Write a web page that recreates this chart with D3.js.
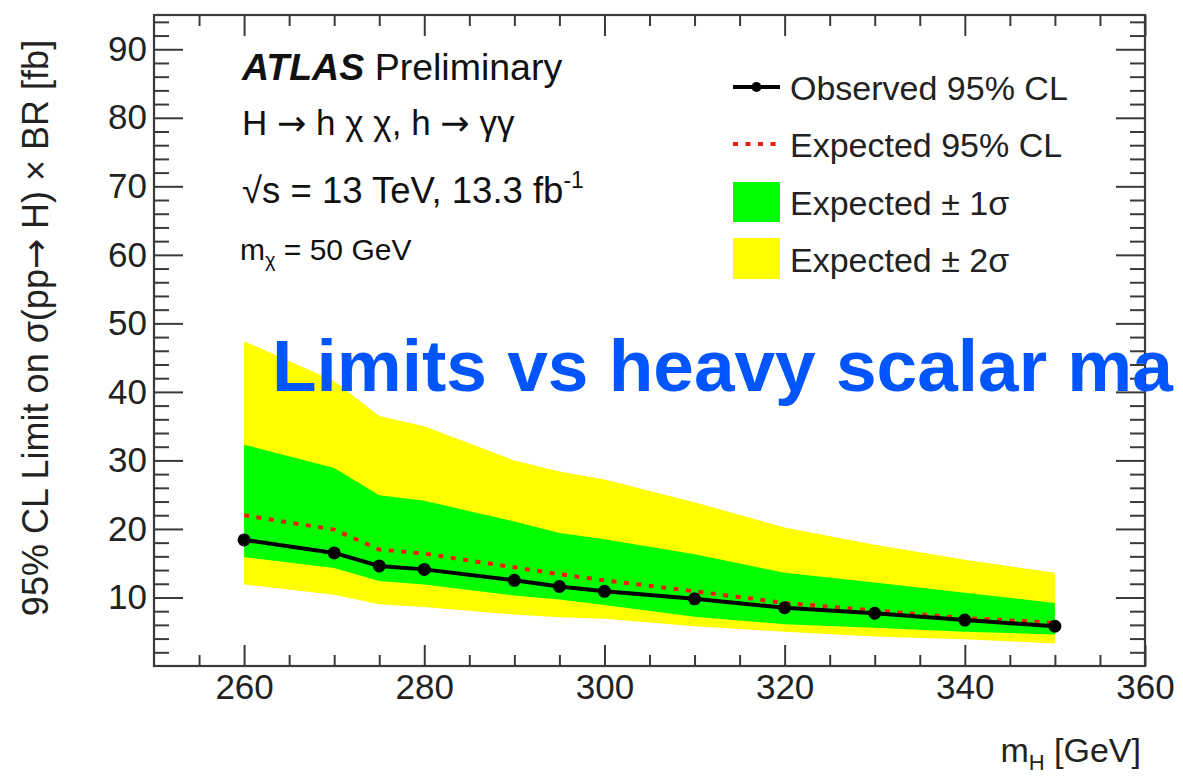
<!DOCTYPE html>
<html>
<head>
<meta charset="utf-8">
<script src="https://cdn.jsdelivr.net/npm/d3@7"></script>
<style>
  html, body { margin: 0; padding: 0; background: #fff; overflow: hidden; }
  svg { display: block; font-family: "Liberation Sans", Arial, Helvetica, sans-serif; }
</style>
</head>
<body>
<svg id="chart" width="1183" height="779"></svg>
<script>
// ---- data ----
const massPoints = [260, 270, 275, 280, 290, 295, 300, 310, 320, 330, 340, 350];
const observed   = [18.4, 16.5, 14.6, 14.1, 12.5, 11.6, 10.9, 9.8, 8.5, 7.7, 6.7, 5.8];
const expected   = [22.0, 19.9, 17.0, 16.4, 14.4, 13.4, 12.5, 10.9, 9.2, 8.1, 7.0, 6.3];
const oneSigmaHi = [32.3, 28.9, 24.9, 24.1, 21.1, 19.4, 18.5, 16.3, 13.6, 12.2, 10.7, 9.2];
const oneSigmaLo = [15.9, 14.3, 12.4, 11.9, 10.3, 9.7, 8.9, 7.2, 6.1, 5.6, 5.0, 4.6];
const twoSigmaHi = [47.4, 41.6, 36.5, 35.0, 30.0, 28.4, 27.2, 23.9, 20.2, 17.7, 15.5, 13.6];
const twoSigmaLo = [11.9, 10.4, 9.0, 8.6, 7.5, 7.1, 6.9, 5.8, 5.0, 4.3, 3.9, 3.3];

const xMajorTicks = [260, 280, 300, 320, 340, 360];
const xMinorTicks = [255, 265, 270, 275, 285, 290, 295, 305, 310, 315, 325, 330, 335, 345, 350, 355];
const yMajorTicks = [10, 20, 30, 40, 50, 60, 70, 80, 90];
const yMinorTicks = [2, 4, 6, 8, 12, 14, 16, 18, 22, 24, 26, 28, 32, 34, 36, 38, 42, 44, 46, 48,
                     52, 54, 56, 58, 62, 64, 66, 68, 72, 74, 76, 78, 82, 84, 86, 88, 92, 94];
const xDomain = [250, 360];
const yDomain = [0, 95];

const legendLabels = ["Observed 95% CL", "Expected 95% CL", "Expected \u00B1 1\u03C3", "Expected \u00B1 2\u03C3"];

// ---- layout ----
const svg = d3.select("#chart");
const L = 154, R = 1145, T = 15, B = 666;
const x = d3.scaleLinear().domain(xDomain).range([L, R]);
const y = d3.scaleLinear().domain(yDomain).range([B, T]);

const rows = massPoints.map((m, i) => ({
  m, obs: observed[i], exp: expected[i],
  g1: oneSigmaLo[i], g2: oneSigmaHi[i], y1: twoSigmaLo[i], y2: twoSigmaHi[i]
}));

const YELLOW = "#ffff00", GREEN = "#00ff00", RED = "#ee1c10", AXIS = "#3a3a3a";
const ARROWFONT = "'DejaVu Sans', sans-serif";

// bands
svg.append("path").datum(rows)
  .attr("fill", YELLOW)
  .attr("d", d3.area().x(d => x(d.m)).y0(d => y(d.y1)).y1(d => y(d.y2)));
svg.append("path").datum(rows)
  .attr("fill", GREEN)
  .attr("d", d3.area().x(d => x(d.m)).y0(d => y(d.g1)).y1(d => y(d.g2)));

// expected dotted line
svg.append("path").datum(rows)
  .attr("fill", "none").attr("stroke", RED).attr("stroke-width", 4)
  .attr("stroke-dasharray", "5,7.5")
  .attr("d", d3.line().x(d => x(d.m)).y(d => y(d.exp)));

// observed line + markers
svg.append("path").datum(rows)
  .attr("fill", "none").attr("stroke", "#000").attr("stroke-width", 4)
  .attr("d", d3.line().x(d => x(d.m)).y(d => y(d.obs)));
svg.selectAll("circle.obs").data(rows).enter().append("circle")
  .attr("class", "obs")
  .attr("cx", d => x(d.m)).attr("cy", d => y(d.obs)).attr("r", 6.5).attr("fill", "#000");

// axes (ROOT style, inward ticks)
function styleAxis(g) {
  g.select(".domain").remove();
  g.selectAll(".tick line").attr("stroke", AXIS).attr("stroke-width", 2);
  g.selectAll(".tick text").attr("fill", "#222").style("font-size", "35px")
    .style("font-family", "'Liberation Sans', Arial, sans-serif");
}
// bottom
svg.append("g").attr("transform", `translate(0,${B})`)
  .call(d3.axisBottom(x).tickValues(xMajorTicks).tickSize(-21).tickPadding(8).tickFormat(d3.format("d")))
  .call(styleAxis);
svg.append("g").attr("transform", `translate(0,${B})`)
  .call(d3.axisBottom(x).tickValues(xMinorTicks).tickSize(-11).tickFormat(""))
  .call(styleAxis);
// top
svg.append("g").attr("transform", `translate(0,${T})`)
  .call(d3.axisTop(x).tickValues(xMajorTicks).tickSize(-21).tickFormat(""))
  .call(styleAxis);
svg.append("g").attr("transform", `translate(0,${T})`)
  .call(d3.axisTop(x).tickValues(xMinorTicks).tickSize(-11).tickFormat(""))
  .call(styleAxis);
// left
svg.append("g").attr("transform", `translate(${L},0)`)
  .call(d3.axisLeft(y).tickValues(yMajorTicks).tickSize(-29).tickPadding(7).tickFormat(d3.format("d")))
  .call(styleAxis);
svg.append("g").attr("transform", `translate(${L},0)`)
  .call(d3.axisLeft(y).tickValues(yMinorTicks).tickSize(-15).tickFormat(""))
  .call(styleAxis);
// right
svg.append("g").attr("transform", `translate(${R},0)`)
  .call(d3.axisRight(y).tickValues(yMajorTicks).tickSize(-29).tickFormat(""))
  .call(styleAxis);
svg.append("g").attr("transform", `translate(${R},0)`)
  .call(d3.axisRight(y).tickValues(yMinorTicks).tickSize(-15).tickFormat(""))
  .call(styleAxis);

// frame
svg.append("rect").attr("x", L).attr("y", T).attr("width", R - L).attr("height", B - T)
  .attr("fill", "none").attr("stroke", AXIS).attr("stroke-width", 2.2);

// axis titles
const yTitle = svg.append("text")
  .attr("transform", `translate(48,328) rotate(-90)`)
  .attr("text-anchor", "middle").attr("fill", "#222").style("font-size", "36px");
yTitle.append("tspan").text("95% CL Limit on \u03C3(pp");
yTitle.append("tspan").style("font-family", ARROWFONT).text("\u2192");
yTitle.append("tspan").text(" H) \u00D7 BR [fb]");

const xTitle = svg.append("text").attr("x", R - 4).attr("y", 762)
  .attr("text-anchor", "end").attr("fill", "#222").style("font-size", "34px");
xTitle.append("tspan").text("m");
xTitle.append("tspan").attr("dy", 8).style("font-size", "22px").text("H");
xTitle.append("tspan").attr("dy", -8).text(" [GeV]");

// ATLAS label block
const t1 = svg.append("text").attr("x", 242).attr("y", 80).attr("fill", "#111").style("font-size", "37.5px");
t1.append("tspan").style("font-weight", "bold").style("font-style", "italic").text("ATLAS");
t1.append("tspan").text(" Preliminary");

const t2 = svg.append("text").attr("x", 242).attr("y", 135).attr("fill", "#111").style("font-size", "35px");
t2.append("tspan").text("H ");
t2.append("tspan").style("font-family", ARROWFONT).text("\u2192");
t2.append("tspan").text(" h \u03C7 \u03C7, h ");
t2.append("tspan").style("font-family", ARROWFONT).text("\u2192");
t2.append("tspan").text(" \u03B3\u03B3");

const t3 = svg.append("text").attr("x", 242).attr("y", 203).attr("fill", "#111").style("font-size", "36.5px");
t3.append("tspan").text("\u221As = 13 TeV, 13.3 fb");
t3.append("tspan").attr("dy", -15).style("font-size", "23px").text("-1");

const t4 = svg.append("text").attr("x", 240).attr("y", 260).attr("fill", "#111").style("font-size", "30px");
t4.append("tspan").text("m");
t4.append("tspan").attr("dy", 7).style("font-size", "20px").text("\u03C7");
t4.append("tspan").attr("dy", -7).text(" = 50 GeV");

// legend
const lgX0 = 733, lgX1 = 780, lgText = 790;
const rowsY = [87, 144, 202, 259];
const lg = svg.append("g");
lg.append("line").attr("x1", lgX0).attr("x2", lgX1).attr("y1", rowsY[0]).attr("y2", rowsY[0])
  .attr("stroke", "#000").attr("stroke-width", 4);
lg.append("circle").attr("cx", (lgX0 + lgX1) / 2).attr("cy", rowsY[0]).attr("r", 5).attr("fill", "#000");
lg.append("line").attr("x1", lgX0).attr("x2", lgX1).attr("y1", rowsY[1]).attr("y2", rowsY[1])
  .attr("stroke", RED).attr("stroke-width", 4).attr("stroke-dasharray", "5,7.5");
lg.append("rect").attr("x", lgX0).attr("y", rowsY[2] - 20).attr("width", lgX1 - lgX0).attr("height", 40).attr("fill", GREEN);
lg.append("rect").attr("x", lgX0).attr("y", rowsY[3] - 21).attr("width", lgX1 - lgX0).attr("height", 41).attr("fill", YELLOW);
lg.selectAll("text.lg").data(legendLabels).enter().append("text")
  .attr("class", "lg").attr("x", lgText).attr("y", (d, i) => rowsY[i] + 13)
  .attr("fill", "#222").style("font-size", "34px").text(d => d);

// overlay caption (visible portion as shown in the reference)
svg.append("text").attr("x", 272).attr("y", 391)
  .attr("fill", "#0055ff").style("font-size", "73px").style("font-weight", "bold")
  .text("Limits vs heavy scalar ma");
</script>
</body>
</html>
